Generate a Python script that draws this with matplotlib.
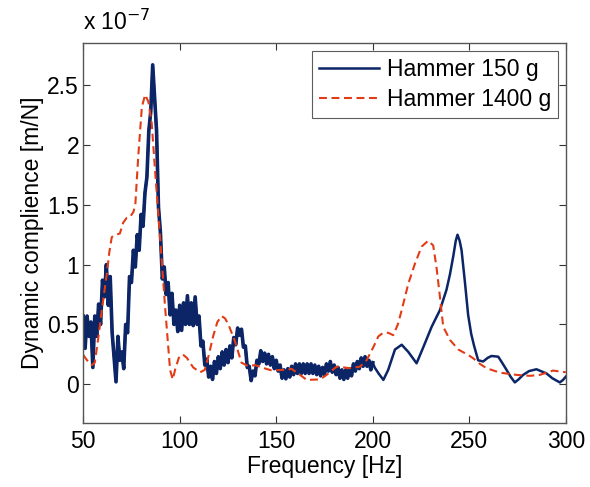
import numpy as np
import matplotlib.pyplot as plt

# Hammer 150 g: noisy low-frequency part, 1 Hz steps (50..200 Hz), values in 1e-7 m/N
f_noisy = list(range(50, 201))
c_noisy = [0.57, 0.30, 0.57, 0.40, 0.52, 0.14, 0.57, 0.40, 0.67, 0.50,
           0.87, 0.73, 1.00, 0.66, 0.90, 0.43, 0.22, 0.02, 0.40, 0.20,
           0.27, 0.13, 0.50, 0.43, 0.90, 0.85, 1.12, 0.98, 1.25, 1.12,
           1.42, 1.32, 1.60, 1.73, 2.12, 2.28, 2.67, 2.40, 2.12, 1.48,
           1.27, 0.88, 0.98, 0.75, 0.85, 0.58, 0.76, 0.50, 0.62, 0.44,
           0.66, 0.45, 0.68, 0.50, 0.74, 0.50, 0.68, 0.49, 0.73, 0.50,
           0.57, 0.32, 0.36, 0.16, 0.21, 0.06, 0.15, 0.04, 0.19, 0.09,
           0.23, 0.13, 0.27, 0.16, 0.29, 0.18, 0.32, 0.22, 0.39, 0.33,
           0.47, 0.41, 0.46, 0.31, 0.32, 0.14, 0.15, 0.03, 0.11, 0.07,
           0.20, 0.17, 0.28, 0.19, 0.26, 0.17, 0.25, 0.16, 0.23, 0.13,
           0.20, 0.11, 0.16, 0.05, 0.12, 0.045, 0.13, 0.06, 0.15, 0.08,
           0.17, 0.09, 0.17, 0.09, 0.17, 0.09, 0.17, 0.09, 0.17, 0.09,
           0.16, 0.08, 0.15, 0.07, 0.14, 0.08, 0.17, 0.11, 0.19, 0.10,
           0.16, 0.08, 0.14, 0.05, 0.12, 0.04, 0.12, 0.05, 0.13, 0.07,
           0.17, 0.11, 0.19, 0.13, 0.22, 0.15, 0.23, 0.15, 0.20, 0.12,
           0.18]

# Hammer 150 g: smooth upper part
f_smooth = [201, 203, 205.5, 208, 211.5, 215, 218.4, 222.7, 226.2, 230.5,
            234.8, 238.2, 240, 241.7, 243, 243.9, 245, 246, 247.7, 249.4,
            251, 252.5, 254.6, 257.2, 259.5, 261.5, 265, 267, 269.3, 271.5,
            273.6, 275.5, 277.9, 281, 284.8, 287, 290, 293, 296.9, 298.5, 300]
c_smooth = [0.14, 0.09, 0.036, 0.12, 0.29, 0.33, 0.27, 0.175, 0.31, 0.48,
            0.62, 0.79, 0.92, 1.07, 1.20, 1.25, 1.20, 1.12, 0.86, 0.58,
            0.42, 0.32, 0.20, 0.19, 0.22, 0.236, 0.23, 0.18, 0.12, 0.06,
            0.015, 0.04, 0.078, 0.11, 0.125, 0.11, 0.09, 0.05, 0.015, 0.035, 0.063]

# Hammer 1400 g
f_heavy = [50, 52, 54.5, 56, 57.5, 58.8, 60.5, 62.3, 63.5, 64.8, 67, 69, 70.7,
           72.5, 74.3, 76, 77, 78.5, 80.4, 82.1, 83.8, 85.5, 87.3, 89.9, 92.4,
           95, 96.4, 97.6, 99.5, 101.5, 103.7, 107, 110.6, 113, 115, 117.3,
           119.5, 121.7, 123.5, 125.2, 128.6, 132, 135.6, 139, 142.5, 147.6,
           153.7, 158, 162.3, 165.8, 172.7, 176.1, 181.3, 188.2, 193.4, 196.8,
           200.3, 202.9, 205.4, 208, 210.6, 213, 215, 218.4, 221.9, 225.3,
           228.7, 231.3, 233, 234.8, 236.5, 240, 244.3, 249.4, 252, 255.5,
           258.9, 265.8, 274.4, 281.4, 286.5, 293.4, 300]
c_heavy = [0.245, 0.20, 0.16, 0.18, 0.35, 0.51, 0.72, 0.93, 1.10, 1.23, 1.25,
           1.26, 1.35, 1.39, 1.40, 1.44, 1.50, 1.90, 2.32, 2.42, 2.36, 2.18,
           1.77, 1.21, 0.65, 0.12, 0.04, 0.12, 0.22, 0.25, 0.22, 0.14, 0.10,
           0.12, 0.24, 0.40, 0.52, 0.57, 0.55, 0.50, 0.36, 0.18, 0.15, 0.16,
           0.14, 0.115, 0.12, 0.128, 0.078, 0.036, 0.04, 0.078, 0.147, 0.134,
           0.147, 0.2, 0.31, 0.40, 0.43, 0.43, 0.41, 0.50, 0.62, 0.84, 1.01,
           1.15, 1.20, 1.16, 0.98, 0.73, 0.48, 0.37, 0.29, 0.245, 0.217, 0.17,
           0.134, 0.097, 0.078, 0.07, 0.078, 0.114, 0.10]

f_light = f_noisy + f_smooth
c_light = c_noisy + c_smooth

blue = '#0b2566'
red = '#e23c16'
fs = 16.5

plt.rcParams['font.family'] = ['Liberation Sans', 'DejaVu Sans']

fig = plt.figure(figsize=(5.9, 4.87), dpi=100)
ax = fig.add_axes([0.141, 0.131, 0.818, 0.781])

ax.plot(f_light, c_light, color=blue, lw=1.8, label='Hammer 150 g')
ax.plot(f_noisy, c_noisy, color=blue, lw=2.6)  # noisy part drawn thicker, like the dense trace
ax.plot(f_heavy, c_heavy, color=red, lw=1.5, ls=(0, (3.8, 2.2)), label='Hammer 1400 g')

ax.set_xlim(50, 300)
ax.set_ylim(-0.326, 2.854)
ax.set_xticks([50, 100, 150, 200, 250, 300])
ax.set_yticks([0, 0.5, 1, 1.5, 2, 2.5])
ax.set_yticklabels(['0', '0.5', '1', '1.5', '2', '2.5'])
ax.tick_params(direction='in', top=True, right=True, length=5, labelsize=fs, width=0.8,
               colors='#333333', labelcolor='black')
ax.tick_params(axis='y', pad=3)
ax.tick_params(axis='x', pad=5)
for s in ax.spines.values():
    s.set_color('#555555')
    s.set_linewidth(1.0)

ax.set_xlabel('Frequency [Hz]', fontsize=fs, labelpad=1)
ax.set_ylabel('Dynamic complience [m/N]', fontsize=fs, labelpad=2)
ax.text(0.0, 1.02, r'x 10$^{-7}$', transform=ax.transAxes, fontsize=fs, ha='left', va='bottom')

leg = ax.legend(loc='upper right', fontsize=fs, handlelength=2.6, frameon=True, fancybox=False,
                borderaxespad=0.35, labelspacing=0.3, handletextpad=0.35, borderpad=0.3)
leg.get_frame().set_edgecolor('#333333')
leg.get_frame().set_linewidth(0.8)

fig.savefig('out.png', dpi=100)
